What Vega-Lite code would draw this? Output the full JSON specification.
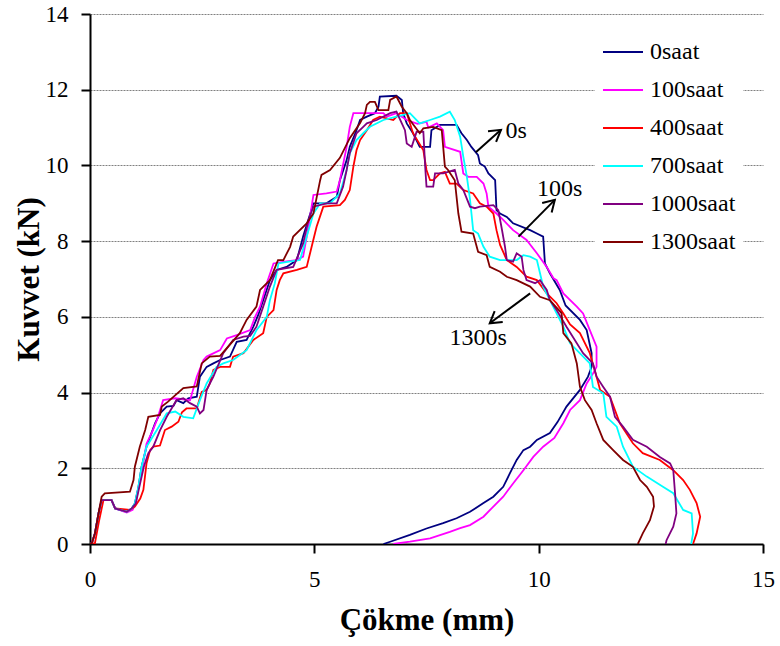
{
"$schema": "https://vega.github.io/schema/vega-lite/v6.json",
"autosize": {"type": "none"},
"padding": {"left": 90, "top": 14, "right": 17, "bottom": 102},
"width": 673,
"height": 530,
"background": "white",
"config": {"view": {"stroke": null}, "font": "Liberation Serif, Times New Roman, Times, serif"},
"datasets": {
"curves": [
{"s":"0saat","i":1,"x":0,"y":0},{"s":"0saat","i":2,"x":0.04,"y":0.02},{"s":"0saat","i":3,"x":0.11,"y":0.28},{"s":"0saat","i":4,"x":0.19,"y":0.81},{"s":"0saat","i":5,"x":0.26,"y":1.16},{"s":"0saat","i":6,"x":0.48,"y":1.16},{"s":"0saat","i":7,"x":0.56,"y":0.94},{"s":"0saat","i":8,"x":0.82,"y":0.85},{"s":"0saat","i":9,"x":0.93,"y":0.94},{"s":"0saat","i":10,"x":1.0,"y":1.07},{"s":"0saat","i":11,"x":1.08,"y":1.51},{"s":"0saat","i":12,"x":1.15,"y":2.04},{"s":"0saat","i":13,"x":1.26,"y":2.57},{"s":"0saat","i":14,"x":1.34,"y":2.83},{"s":"0saat","i":15,"x":1.45,"y":3.19},{"s":"0saat","i":16,"x":1.56,"y":3.45},{"s":"0saat","i":17,"x":1.71,"y":3.63},{"s":"0saat","i":18,"x":1.86,"y":3.65},{"s":"0saat","i":19,"x":1.93,"y":3.8},{"s":"0saat","i":20,"x":2.08,"y":3.72},{"s":"0saat","i":21,"x":2.19,"y":3.85},{"s":"0saat","i":22,"x":2.38,"y":3.89},{"s":"0saat","i":23,"x":2.45,"y":4.42},{"s":"0saat","i":24,"x":2.6,"y":4.68},{"s":"0saat","i":25,"x":2.75,"y":4.77},{"s":"0saat","i":26,"x":2.9,"y":4.86},{"s":"0saat","i":27,"x":3.12,"y":4.95},{"s":"0saat","i":28,"x":3.27,"y":5.34},{"s":"0saat","i":29,"x":3.49,"y":5.39},{"s":"0saat","i":30,"x":3.64,"y":5.74},{"s":"0saat","i":31,"x":3.75,"y":6.05},{"s":"0saat","i":32,"x":3.86,"y":6.44},{"s":"0saat","i":33,"x":4.01,"y":6.97},{"s":"0saat","i":34,"x":4.16,"y":7.24},{"s":"0saat","i":35,"x":4.38,"y":7.32},{"s":"0saat","i":36,"x":4.61,"y":7.5},{"s":"0saat","i":37,"x":4.75,"y":8.12},{"s":"0saat","i":38,"x":4.98,"y":9.0},{"s":"0saat","i":39,"x":5.27,"y":9.0},{"s":"0saat","i":40,"x":5.5,"y":9.17},{"s":"0saat","i":41,"x":5.57,"y":9.61},{"s":"0saat","i":42,"x":5.72,"y":10.14},{"s":"0saat","i":43,"x":5.79,"y":10.49},{"s":"0saat","i":44,"x":5.94,"y":10.93},{"s":"0saat","i":45,"x":6.02,"y":11.2},{"s":"0saat","i":46,"x":6.17,"y":11.29},{"s":"0saat","i":47,"x":6.35,"y":11.38},{"s":"0saat","i":48,"x":6.43,"y":11.55},{"s":"0saat","i":49,"x":6.46,"y":11.82},{"s":"0saat","i":50,"x":6.83,"y":11.84},{"s":"0saat","i":51,"x":6.95,"y":11.73},{"s":"0saat","i":52,"x":6.98,"y":11.38},{"s":"0saat","i":53,"x":7.06,"y":11.11},{"s":"0saat","i":54,"x":7.2,"y":10.85},{"s":"0saat","i":55,"x":7.35,"y":10.49},{"s":"0saat","i":56,"x":7.58,"y":10.49},{"s":"0saat","i":57,"x":7.61,"y":10.93},{"s":"0saat","i":58,"x":7.8,"y":11.07},{"s":"0saat","i":59,"x":8.17,"y":11.07},{"s":"0saat","i":60,"x":8.28,"y":10.85},{"s":"0saat","i":61,"x":8.4,"y":10.67},{"s":"0saat","i":62,"x":8.5,"y":10.49},{"s":"0saat","i":63,"x":8.65,"y":10.27},{"s":"0saat","i":64,"x":8.69,"y":10.05},{"s":"0saat","i":65,"x":8.8,"y":9.97},{"s":"0saat","i":66,"x":8.88,"y":9.79},{"s":"0saat","i":67,"x":9.03,"y":9.61},{"s":"0saat","i":68,"x":9.06,"y":8.82},{"s":"0saat","i":69,"x":9.14,"y":8.73},{"s":"0saat","i":70,"x":9.29,"y":8.64},{"s":"0saat","i":71,"x":9.43,"y":8.47},{"s":"0saat","i":72,"x":9.81,"y":8.29},{"s":"0saat","i":73,"x":9.96,"y":8.2},{"s":"0saat","i":74,"x":10.1,"y":8.12},{"s":"0saat","i":75,"x":10.14,"y":7.41},{"s":"0saat","i":76,"x":10.25,"y":7.15},{"s":"0saat","i":77,"x":10.47,"y":6.71},{"s":"0saat","i":78,"x":10.6,"y":6.3},{"s":"0saat","i":79,"x":10.92,"y":5.92},{"s":"0saat","i":80,"x":11.07,"y":5.65},{"s":"0saat","i":81,"x":11.18,"y":5.04},{"s":"0saat","i":82,"x":11.18,"y":4.68},{"s":"0saat","i":83,"x":11.1,"y":4.42},{"s":"0saat","i":84,"x":10.92,"y":4.07},{"s":"0saat","i":85,"x":10.62,"y":3.63},{"s":"0saat","i":86,"x":10.42,"y":3.22},{"s":"0saat","i":87,"x":10.25,"y":2.93},{"s":"0saat","i":88,"x":9.96,"y":2.75},{"s":"0saat","i":89,"x":9.81,"y":2.57},{"s":"0saat","i":90,"x":9.66,"y":2.48},{"s":"0saat","i":91,"x":9.51,"y":2.22},{"s":"0saat","i":92,"x":9.36,"y":1.87},{"s":"0saat","i":93,"x":9.21,"y":1.51},{"s":"0saat","i":94,"x":8.99,"y":1.25},{"s":"0saat","i":95,"x":8.77,"y":1.08},{"s":"0saat","i":96,"x":8.47,"y":0.85},{"s":"0saat","i":97,"x":8.17,"y":0.68},{"s":"0saat","i":98,"x":7.87,"y":0.55},{"s":"0saat","i":99,"x":7.5,"y":0.41},{"s":"0saat","i":100,"x":7.13,"y":0.24},{"s":"0saat","i":101,"x":6.69,"y":0.06},{"s":"0saat","i":102,"x":6.54,"y":0},
{"s":"100saat","i":1,"x":0,"y":0},{"s":"100saat","i":2,"x":0.04,"y":0.02},{"s":"100saat","i":3,"x":0.11,"y":0.28},{"s":"100saat","i":4,"x":0.19,"y":0.81},{"s":"100saat","i":5,"x":0.26,"y":1.16},{"s":"100saat","i":6,"x":0.48,"y":1.16},{"s":"100saat","i":7,"x":0.56,"y":0.94},{"s":"100saat","i":8,"x":0.82,"y":0.83},{"s":"100saat","i":9,"x":0.95,"y":0.9},{"s":"100saat","i":10,"x":1.02,"y":1.1},{"s":"100saat","i":11,"x":1.1,"y":1.6},{"s":"100saat","i":12,"x":1.18,"y":2.1},{"s":"100saat","i":13,"x":1.26,"y":2.65},{"s":"100saat","i":14,"x":1.4,"y":3.0},{"s":"100saat","i":15,"x":1.5,"y":3.3},{"s":"100saat","i":16,"x":1.63,"y":3.8},{"s":"100saat","i":17,"x":1.9,"y":3.85},{"s":"100saat","i":18,"x":2.23,"y":3.8},{"s":"100saat","i":19,"x":2.38,"y":4.42},{"s":"100saat","i":20,"x":2.53,"y":4.86},{"s":"100saat","i":21,"x":2.6,"y":4.95},{"s":"100saat","i":22,"x":2.9,"y":5.12},{"s":"100saat","i":23,"x":3.05,"y":5.43},{"s":"100saat","i":24,"x":3.27,"y":5.52},{"s":"100saat","i":25,"x":3.57,"y":5.65},{"s":"100saat","i":26,"x":3.68,"y":6.0},{"s":"100saat","i":27,"x":3.79,"y":6.27},{"s":"100saat","i":28,"x":3.94,"y":6.89},{"s":"100saat","i":29,"x":4.09,"y":7.41},{"s":"100saat","i":30,"x":4.3,"y":7.45},{"s":"100saat","i":31,"x":4.6,"y":7.5},{"s":"100saat","i":32,"x":4.75,"y":7.59},{"s":"100saat","i":33,"x":4.87,"y":8.38},{"s":"100saat","i":34,"x":4.98,"y":9.22},{"s":"100saat","i":35,"x":5.27,"y":9.26},{"s":"100saat","i":36,"x":5.5,"y":9.31},{"s":"100saat","i":37,"x":5.57,"y":9.61},{"s":"100saat","i":38,"x":5.72,"y":10.49},{"s":"100saat","i":39,"x":5.79,"y":11.02},{"s":"100saat","i":40,"x":5.87,"y":11.38},{"s":"100saat","i":41,"x":6.54,"y":11.38},{"s":"100saat","i":42,"x":6.61,"y":11.29},{"s":"100saat","i":43,"x":6.83,"y":11.38},{"s":"100saat","i":44,"x":7.06,"y":11.2},{"s":"100saat","i":45,"x":7.3,"y":11.1},{"s":"100saat","i":46,"x":7.5,"y":11.15},{"s":"100saat","i":47,"x":7.54,"y":11.0},{"s":"100saat","i":48,"x":7.73,"y":11.11},{"s":"100saat","i":49,"x":7.87,"y":10.93},{"s":"100saat","i":50,"x":7.91,"y":10.49},{"s":"100saat","i":51,"x":8.25,"y":10.36},{"s":"100saat","i":52,"x":8.32,"y":9.79},{"s":"100saat","i":53,"x":8.43,"y":9.7},{"s":"100saat","i":54,"x":8.62,"y":9.7},{"s":"100saat","i":55,"x":8.77,"y":9.52},{"s":"100saat","i":56,"x":8.84,"y":9.26},{"s":"100saat","i":57,"x":8.88,"y":8.91},{"s":"100saat","i":58,"x":9.06,"y":8.73},{"s":"100saat","i":59,"x":9.21,"y":8.56},{"s":"100saat","i":60,"x":9.43,"y":8.29},{"s":"100saat","i":61,"x":9.73,"y":8.03},{"s":"100saat","i":62,"x":9.96,"y":7.68},{"s":"100saat","i":63,"x":10.18,"y":7.32},{"s":"100saat","i":64,"x":10.33,"y":7.02},{"s":"100saat","i":65,"x":10.4,"y":6.97},{"s":"100saat","i":66,"x":10.55,"y":6.62},{"s":"100saat","i":67,"x":10.85,"y":6.27},{"s":"100saat","i":68,"x":10.99,"y":6.09},{"s":"100saat","i":69,"x":11.14,"y":5.65},{"s":"100saat","i":70,"x":11.29,"y":5.21},{"s":"100saat","i":71,"x":11.29,"y":4.68},{"s":"100saat","i":72,"x":11.21,"y":4.5},{"s":"100saat","i":73,"x":11.07,"y":4.24},{"s":"100saat","i":74,"x":10.92,"y":3.8},{"s":"100saat","i":75,"x":10.7,"y":3.54},{"s":"100saat","i":76,"x":10.55,"y":3.19},{"s":"100saat","i":77,"x":10.35,"y":2.8},{"s":"100saat","i":78,"x":10.1,"y":2.57},{"s":"100saat","i":79,"x":9.88,"y":2.3},{"s":"100saat","i":80,"x":9.66,"y":1.95},{"s":"100saat","i":81,"x":9.43,"y":1.6},{"s":"100saat","i":82,"x":9.21,"y":1.25},{"s":"100saat","i":83,"x":8.99,"y":0.99},{"s":"100saat","i":84,"x":8.77,"y":0.72},{"s":"100saat","i":85,"x":8.47,"y":0.5},{"s":"100saat","i":86,"x":8.25,"y":0.42},{"s":"100saat","i":87,"x":8.02,"y":0.32},{"s":"100saat","i":88,"x":7.58,"y":0.15},{"s":"100saat","i":89,"x":7.13,"y":0.06},{"s":"100saat","i":90,"x":6.76,"y":0},
{"s":"400saat","i":1,"x":0,"y":0},{"s":"400saat","i":2,"x":0.11,"y":0.02},{"s":"400saat","i":3,"x":0.2,"y":0.6},{"s":"400saat","i":4,"x":0.3,"y":1.16},{"s":"400saat","i":5,"x":0.48,"y":1.16},{"s":"400saat","i":6,"x":0.56,"y":0.94},{"s":"400saat","i":7,"x":0.89,"y":0.9},{"s":"400saat","i":8,"x":1.0,"y":0.99},{"s":"400saat","i":9,"x":1.12,"y":1.2},{"s":"400saat","i":10,"x":1.19,"y":1.43},{"s":"400saat","i":11,"x":1.26,"y":2.13},{"s":"400saat","i":12,"x":1.34,"y":2.48},{"s":"400saat","i":13,"x":1.41,"y":2.57},{"s":"400saat","i":14,"x":1.56,"y":2.6},{"s":"400saat","i":15,"x":1.67,"y":3.01},{"s":"400saat","i":16,"x":1.82,"y":3.1},{"s":"400saat","i":17,"x":1.97,"y":3.23},{"s":"400saat","i":18,"x":2.05,"y":3.48},{"s":"400saat","i":19,"x":2.15,"y":3.58},{"s":"400saat","i":20,"x":2.38,"y":3.58},{"s":"400saat","i":21,"x":2.49,"y":4.02},{"s":"400saat","i":22,"x":2.6,"y":4.07},{"s":"400saat","i":23,"x":2.67,"y":4.24},{"s":"400saat","i":24,"x":2.75,"y":4.6},{"s":"400saat","i":25,"x":2.9,"y":4.68},{"s":"400saat","i":26,"x":3.12,"y":4.68},{"s":"400saat","i":27,"x":3.19,"y":4.95},{"s":"400saat","i":28,"x":3.42,"y":5.04},{"s":"400saat","i":29,"x":3.64,"y":5.39},{"s":"400saat","i":30,"x":3.86,"y":5.57},{"s":"400saat","i":31,"x":3.94,"y":6.0},{"s":"400saat","i":32,"x":4.09,"y":6.18},{"s":"400saat","i":33,"x":4.16,"y":6.71},{"s":"400saat","i":34,"x":4.23,"y":6.97},{"s":"400saat","i":35,"x":4.31,"y":7.15},{"s":"400saat","i":36,"x":4.61,"y":7.24},{"s":"400saat","i":37,"x":4.83,"y":7.32},{"s":"400saat","i":38,"x":4.94,"y":7.85},{"s":"400saat","i":39,"x":5.05,"y":8.38},{"s":"400saat","i":40,"x":5.2,"y":8.91},{"s":"400saat","i":41,"x":5.57,"y":8.95},{"s":"400saat","i":42,"x":5.68,"y":9.09},{"s":"400saat","i":43,"x":5.79,"y":9.35},{"s":"400saat","i":44,"x":5.87,"y":9.97},{"s":"400saat","i":45,"x":5.94,"y":10.4},{"s":"400saat","i":46,"x":6.02,"y":10.67},{"s":"400saat","i":47,"x":6.17,"y":10.93},{"s":"400saat","i":48,"x":6.31,"y":11.2},{"s":"400saat","i":49,"x":6.46,"y":11.29},{"s":"400saat","i":50,"x":6.76,"y":11.2},{"s":"400saat","i":51,"x":6.91,"y":11.38},{"s":"400saat","i":52,"x":7.06,"y":11.38},{"s":"400saat","i":53,"x":7.2,"y":10.85},{"s":"400saat","i":54,"x":7.43,"y":10.4},{"s":"400saat","i":55,"x":7.5,"y":9.88},{"s":"400saat","i":56,"x":7.58,"y":9.61},{"s":"400saat","i":57,"x":7.65,"y":9.61},{"s":"400saat","i":58,"x":7.8,"y":9.79},{"s":"400saat","i":59,"x":7.91,"y":9.83},{"s":"400saat","i":60,"x":8.02,"y":9.52},{"s":"400saat","i":61,"x":8.17,"y":9.52},{"s":"400saat","i":62,"x":8.32,"y":9.35},{"s":"400saat","i":63,"x":8.54,"y":9.26},{"s":"400saat","i":64,"x":8.69,"y":9.0},{"s":"400saat","i":65,"x":8.84,"y":8.91},{"s":"400saat","i":66,"x":8.99,"y":8.73},{"s":"400saat","i":67,"x":9.06,"y":8.29},{"s":"400saat","i":68,"x":9.14,"y":7.9},{"s":"400saat","i":69,"x":9.29,"y":7.5},{"s":"400saat","i":70,"x":9.51,"y":7.32},{"s":"400saat","i":71,"x":9.73,"y":7.06},{"s":"400saat","i":72,"x":9.96,"y":6.97},{"s":"400saat","i":73,"x":10.18,"y":6.62},{"s":"400saat","i":74,"x":10.4,"y":6.36},{"s":"400saat","i":75,"x":10.55,"y":6.09},{"s":"400saat","i":76,"x":10.7,"y":5.8},{"s":"400saat","i":77,"x":10.92,"y":5.57},{"s":"400saat","i":78,"x":11.14,"y":5.04},{"s":"400saat","i":79,"x":11.29,"y":4.42},{"s":"400saat","i":80,"x":11.37,"y":4.07},{"s":"400saat","i":81,"x":11.59,"y":3.89},{"s":"400saat","i":82,"x":11.81,"y":3.19},{"s":"400saat","i":83,"x":12.1,"y":2.66},{"s":"400saat","i":84,"x":12.32,"y":2.4},{"s":"400saat","i":85,"x":12.7,"y":2.22},{"s":"400saat","i":86,"x":13.0,"y":1.95},{"s":"400saat","i":87,"x":13.22,"y":1.69},{"s":"400saat","i":88,"x":13.37,"y":1.43},{"s":"400saat","i":89,"x":13.52,"y":1.08},{"s":"400saat","i":90,"x":13.6,"y":0.72},{"s":"400saat","i":91,"x":13.52,"y":0.28},{"s":"400saat","i":92,"x":13.44,"y":0},
{"s":"700saat","i":1,"x":0,"y":0},{"s":"700saat","i":2,"x":0.04,"y":0.02},{"s":"700saat","i":3,"x":0.11,"y":0.28},{"s":"700saat","i":4,"x":0.19,"y":0.81},{"s":"700saat","i":5,"x":0.26,"y":1.16},{"s":"700saat","i":6,"x":0.48,"y":1.16},{"s":"700saat","i":7,"x":0.56,"y":0.94},{"s":"700saat","i":8,"x":0.82,"y":0.85},{"s":"700saat","i":9,"x":0.93,"y":0.94},{"s":"700saat","i":10,"x":1.0,"y":1.07},{"s":"700saat","i":11,"x":1.08,"y":1.51},{"s":"700saat","i":12,"x":1.15,"y":2.04},{"s":"700saat","i":13,"x":1.26,"y":2.57},{"s":"700saat","i":14,"x":1.49,"y":3.01},{"s":"700saat","i":15,"x":1.71,"y":3.45},{"s":"700saat","i":16,"x":1.9,"y":3.5},{"s":"700saat","i":17,"x":2.08,"y":3.36},{"s":"700saat","i":18,"x":2.3,"y":3.32},{"s":"700saat","i":19,"x":2.45,"y":3.8},{"s":"700saat","i":20,"x":2.6,"y":4.24},{"s":"700saat","i":21,"x":2.82,"y":4.68},{"s":"700saat","i":22,"x":2.97,"y":4.77},{"s":"700saat","i":23,"x":3.19,"y":4.86},{"s":"700saat","i":24,"x":3.49,"y":5.12},{"s":"700saat","i":25,"x":3.71,"y":5.65},{"s":"700saat","i":26,"x":3.94,"y":6.0},{"s":"700saat","i":27,"x":4.01,"y":6.44},{"s":"700saat","i":28,"x":4.12,"y":6.89},{"s":"700saat","i":29,"x":4.2,"y":7.41},{"s":"700saat","i":30,"x":4.4,"y":7.45},{"s":"700saat","i":31,"x":4.68,"y":7.5},{"s":"700saat","i":32,"x":4.83,"y":8.12},{"s":"700saat","i":33,"x":4.98,"y":8.73},{"s":"700saat","i":34,"x":5.13,"y":9.0},{"s":"700saat","i":35,"x":5.35,"y":9.0},{"s":"700saat","i":36,"x":5.57,"y":9.26},{"s":"700saat","i":37,"x":5.72,"y":9.88},{"s":"700saat","i":38,"x":5.79,"y":10.32},{"s":"700saat","i":39,"x":5.94,"y":10.67},{"s":"700saat","i":40,"x":6.09,"y":10.85},{"s":"700saat","i":41,"x":6.24,"y":11.02},{"s":"700saat","i":42,"x":6.54,"y":11.2},{"s":"700saat","i":43,"x":6.83,"y":11.29},{"s":"700saat","i":44,"x":7.13,"y":11.38},{"s":"700saat","i":45,"x":7.35,"y":11.11},{"s":"700saat","i":46,"x":7.58,"y":11.2},{"s":"700saat","i":47,"x":7.8,"y":11.29},{"s":"700saat","i":48,"x":8.02,"y":11.42},{"s":"700saat","i":49,"x":8.13,"y":11.2},{"s":"700saat","i":50,"x":8.25,"y":10.76},{"s":"700saat","i":51,"x":8.32,"y":10.23},{"s":"700saat","i":52,"x":8.4,"y":9.7},{"s":"700saat","i":53,"x":8.47,"y":9.1},{"s":"700saat","i":54,"x":8.54,"y":8.29},{"s":"700saat","i":55,"x":8.65,"y":8.2},{"s":"700saat","i":56,"x":8.77,"y":7.85},{"s":"700saat","i":57,"x":8.91,"y":7.59},{"s":"700saat","i":58,"x":9.14,"y":7.5},{"s":"700saat","i":59,"x":9.51,"y":7.5},{"s":"700saat","i":60,"x":9.66,"y":7.63},{"s":"700saat","i":61,"x":9.81,"y":7.59},{"s":"700saat","i":62,"x":9.96,"y":7.5},{"s":"700saat","i":63,"x":10.03,"y":7.15},{"s":"700saat","i":64,"x":10.1,"y":6.8},{"s":"700saat","i":65,"x":10.25,"y":6.44},{"s":"700saat","i":66,"x":10.4,"y":6.09},{"s":"700saat","i":67,"x":10.55,"y":5.74},{"s":"700saat","i":68,"x":10.7,"y":5.3},{"s":"700saat","i":69,"x":10.85,"y":5.12},{"s":"700saat","i":70,"x":11.14,"y":4.77},{"s":"700saat","i":71,"x":11.21,"y":4.15},{"s":"700saat","i":72,"x":11.44,"y":3.98},{"s":"700saat","i":73,"x":11.51,"y":3.36},{"s":"700saat","i":74,"x":11.74,"y":3.1},{"s":"700saat","i":75,"x":11.88,"y":2.57},{"s":"700saat","i":76,"x":12.1,"y":2.04},{"s":"700saat","i":77,"x":12.41,"y":1.78},{"s":"700saat","i":78,"x":12.77,"y":1.51},{"s":"700saat","i":79,"x":13.0,"y":1.34},{"s":"700saat","i":80,"x":13.22,"y":0.9},{"s":"700saat","i":81,"x":13.41,"y":0.81},{"s":"700saat","i":82,"x":13.44,"y":0.28},{"s":"700saat","i":83,"x":13.4,"y":0},
{"s":"1000saat","i":1,"x":0,"y":0},{"s":"1000saat","i":2,"x":0.04,"y":0.02},{"s":"1000saat","i":3,"x":0.11,"y":0.28},{"s":"1000saat","i":4,"x":0.19,"y":0.81},{"s":"1000saat","i":5,"x":0.26,"y":1.16},{"s":"1000saat","i":6,"x":0.48,"y":1.16},{"s":"1000saat","i":7,"x":0.56,"y":0.94},{"s":"1000saat","i":8,"x":0.82,"y":0.85},{"s":"1000saat","i":9,"x":0.93,"y":0.94},{"s":"1000saat","i":10,"x":1.02,"y":1.07},{"s":"1000saat","i":11,"x":1.1,"y":1.51},{"s":"1000saat","i":12,"x":1.2,"y":2.04},{"s":"1000saat","i":13,"x":1.3,"y":2.4},{"s":"1000saat","i":14,"x":1.41,"y":2.57},{"s":"1000saat","i":15,"x":1.56,"y":3.0},{"s":"1000saat","i":16,"x":1.71,"y":3.36},{"s":"1000saat","i":17,"x":1.93,"y":3.8},{"s":"1000saat","i":18,"x":2.08,"y":3.85},{"s":"1000saat","i":19,"x":2.23,"y":3.72},{"s":"1000saat","i":20,"x":2.38,"y":3.63},{"s":"1000saat","i":21,"x":2.45,"y":3.45},{"s":"1000saat","i":22,"x":2.53,"y":3.54},{"s":"1000saat","i":23,"x":2.6,"y":4.07},{"s":"1000saat","i":24,"x":2.75,"y":4.42},{"s":"1000saat","i":25,"x":2.97,"y":5.04},{"s":"1000saat","i":26,"x":3.19,"y":5.39},{"s":"1000saat","i":27,"x":3.42,"y":5.48},{"s":"1000saat","i":28,"x":3.57,"y":5.5},{"s":"1000saat","i":29,"x":3.71,"y":5.74},{"s":"1000saat","i":30,"x":3.86,"y":6.27},{"s":"1000saat","i":31,"x":4.01,"y":6.8},{"s":"1000saat","i":32,"x":4.16,"y":7.24},{"s":"1000saat","i":33,"x":4.53,"y":7.32},{"s":"1000saat","i":34,"x":4.75,"y":7.94},{"s":"1000saat","i":35,"x":4.87,"y":8.56},{"s":"1000saat","i":36,"x":4.98,"y":8.91},{"s":"1000saat","i":37,"x":5.27,"y":9.0},{"s":"1000saat","i":38,"x":5.5,"y":9.0},{"s":"1000saat","i":39,"x":5.64,"y":9.44},{"s":"1000saat","i":40,"x":5.72,"y":9.88},{"s":"1000saat","i":41,"x":5.79,"y":10.32},{"s":"1000saat","i":42,"x":5.94,"y":10.85},{"s":"1000saat","i":43,"x":6.09,"y":11.02},{"s":"1000saat","i":44,"x":6.17,"y":11.11},{"s":"1000saat","i":45,"x":6.39,"y":11.2},{"s":"1000saat","i":46,"x":6.69,"y":11.38},{"s":"1000saat","i":47,"x":6.83,"y":11.42},{"s":"1000saat","i":48,"x":6.95,"y":11.11},{"s":"1000saat","i":49,"x":7.02,"y":10.93},{"s":"1000saat","i":50,"x":7.06,"y":10.58},{"s":"1000saat","i":51,"x":7.17,"y":10.49},{"s":"1000saat","i":52,"x":7.28,"y":10.89},{"s":"1000saat","i":53,"x":7.43,"y":10.89},{"s":"1000saat","i":54,"x":7.47,"y":9.97},{"s":"1000saat","i":55,"x":7.5,"y":9.44},{"s":"1000saat","i":56,"x":7.65,"y":9.44},{"s":"1000saat","i":57,"x":7.69,"y":9.79},{"s":"1000saat","i":58,"x":7.87,"y":9.79},{"s":"1000saat","i":59,"x":8.13,"y":9.88},{"s":"1000saat","i":60,"x":8.21,"y":9.52},{"s":"1000saat","i":61,"x":8.32,"y":9.35},{"s":"1000saat","i":62,"x":8.47,"y":8.91},{"s":"1000saat","i":63,"x":8.58,"y":8.87},{"s":"1000saat","i":64,"x":8.69,"y":8.91},{"s":"1000saat","i":65,"x":8.99,"y":8.95},{"s":"1000saat","i":66,"x":9.1,"y":8.82},{"s":"1000saat","i":67,"x":9.17,"y":8.38},{"s":"1000saat","i":68,"x":9.25,"y":7.85},{"s":"1000saat","i":69,"x":9.29,"y":7.5},{"s":"1000saat","i":70,"x":9.43,"y":7.46},{"s":"1000saat","i":71,"x":9.51,"y":7.68},{"s":"1000saat","i":72,"x":9.62,"y":7.59},{"s":"1000saat","i":73,"x":9.66,"y":7.24},{"s":"1000saat","i":74,"x":9.73,"y":6.97},{"s":"1000saat","i":75,"x":9.92,"y":6.89},{"s":"1000saat","i":76,"x":10.03,"y":6.97},{"s":"1000saat","i":77,"x":10.18,"y":6.71},{"s":"1000saat","i":78,"x":10.25,"y":6.44},{"s":"1000saat","i":79,"x":10.4,"y":6.18},{"s":"1000saat","i":80,"x":10.62,"y":5.74},{"s":"1000saat","i":81,"x":10.99,"y":5.04},{"s":"1000saat","i":82,"x":11.21,"y":4.77},{"s":"1000saat","i":83,"x":11.29,"y":4.42},{"s":"1000saat","i":84,"x":11.44,"y":4.15},{"s":"1000saat","i":85,"x":11.59,"y":3.89},{"s":"1000saat","i":86,"x":11.7,"y":3.36},{"s":"1000saat","i":87,"x":11.88,"y":3.1},{"s":"1000saat","i":88,"x":12.1,"y":2.75},{"s":"1000saat","i":89,"x":12.41,"y":2.57},{"s":"1000saat","i":90,"x":12.7,"y":2.3},{"s":"1000saat","i":91,"x":12.93,"y":2.13},{"s":"1000saat","i":92,"x":13.0,"y":1.95},{"s":"1000saat","i":93,"x":13.04,"y":1.34},{"s":"1000saat","i":94,"x":13.07,"y":0.81},{"s":"1000saat","i":95,"x":13.0,"y":0.46},{"s":"1000saat","i":96,"x":12.85,"y":0.1},{"s":"1000saat","i":97,"x":12.83,"y":0},
{"s":"1300saat","i":1,"x":0,"y":0},{"s":"1300saat","i":2,"x":0.04,"y":0.02},{"s":"1300saat","i":3,"x":0.11,"y":0.28},{"s":"1300saat","i":4,"x":0.19,"y":0.81},{"s":"1300saat","i":5,"x":0.26,"y":1.25},{"s":"1300saat","i":6,"x":0.33,"y":1.34},{"s":"1300saat","i":7,"x":0.89,"y":1.38},{"s":"1300saat","i":8,"x":0.97,"y":1.69},{"s":"1300saat","i":9,"x":1.0,"y":2.04},{"s":"1300saat","i":10,"x":1.11,"y":2.57},{"s":"1300saat","i":11,"x":1.23,"y":3.01},{"s":"1300saat","i":12,"x":1.3,"y":3.36},{"s":"1300saat","i":13,"x":1.56,"y":3.41},{"s":"1300saat","i":14,"x":1.6,"y":3.63},{"s":"1300saat","i":15,"x":1.74,"y":3.76},{"s":"1300saat","i":16,"x":2.08,"y":4.12},{"s":"1300saat","i":17,"x":2.38,"y":4.16},{"s":"1300saat","i":18,"x":2.49,"y":4.77},{"s":"1300saat","i":19,"x":2.67,"y":4.95},{"s":"1300saat","i":20,"x":2.9,"y":4.97},{"s":"1300saat","i":21,"x":3.34,"y":5.57},{"s":"1300saat","i":22,"x":3.49,"y":5.92},{"s":"1300saat","i":23,"x":3.71,"y":6.27},{"s":"1300saat","i":24,"x":3.79,"y":6.71},{"s":"1300saat","i":25,"x":4.01,"y":6.97},{"s":"1300saat","i":26,"x":4.19,"y":7.5},{"s":"1300saat","i":27,"x":4.31,"y":7.5},{"s":"1300saat","i":28,"x":4.46,"y":7.85},{"s":"1300saat","i":29,"x":4.53,"y":8.12},{"s":"1300saat","i":30,"x":4.83,"y":8.47},{"s":"1300saat","i":31,"x":4.98,"y":8.73},{"s":"1300saat","i":32,"x":5.13,"y":9.61},{"s":"1300saat","i":33,"x":5.16,"y":9.75},{"s":"1300saat","i":34,"x":5.35,"y":9.88},{"s":"1300saat","i":35,"x":5.57,"y":10.2},{"s":"1300saat","i":36,"x":5.79,"y":10.72},{"s":"1300saat","i":37,"x":6.02,"y":11.12},{"s":"1300saat","i":38,"x":6.13,"y":11.38},{"s":"1300saat","i":39,"x":6.17,"y":11.6},{"s":"1300saat","i":40,"x":6.24,"y":11.68},{"s":"1300saat","i":41,"x":6.35,"y":11.68},{"s":"1300saat","i":42,"x":6.43,"y":11.46},{"s":"1300saat","i":43,"x":6.65,"y":11.46},{"s":"1300saat","i":44,"x":6.69,"y":11.73},{"s":"1300saat","i":45,"x":6.83,"y":11.82},{"s":"1300saat","i":46,"x":6.95,"y":11.55},{"s":"1300saat","i":47,"x":7.06,"y":11.38},{"s":"1300saat","i":48,"x":7.13,"y":11.2},{"s":"1300saat","i":49,"x":7.35,"y":10.85},{"s":"1300saat","i":50,"x":7.43,"y":10.98},{"s":"1300saat","i":51,"x":7.65,"y":11.02},{"s":"1300saat","i":52,"x":7.84,"y":10.93},{"s":"1300saat","i":53,"x":7.91,"y":9.97},{"s":"1300saat","i":54,"x":7.98,"y":9.88},{"s":"1300saat","i":55,"x":8.13,"y":9.61},{"s":"1300saat","i":56,"x":8.21,"y":8.73},{"s":"1300saat","i":57,"x":8.28,"y":8.25},{"s":"1300saat","i":58,"x":8.54,"y":8.2},{"s":"1300saat","i":59,"x":8.65,"y":7.72},{"s":"1300saat","i":60,"x":8.84,"y":7.63},{"s":"1300saat","i":61,"x":8.91,"y":7.32},{"s":"1300saat","i":62,"x":9.14,"y":7.19},{"s":"1300saat","i":63,"x":9.29,"y":7.06},{"s":"1300saat","i":64,"x":9.51,"y":6.97},{"s":"1300saat","i":65,"x":9.81,"y":6.8},{"s":"1300saat","i":66,"x":10.03,"y":6.53},{"s":"1300saat","i":67,"x":10.25,"y":6.44},{"s":"1300saat","i":68,"x":10.51,"y":6.1},{"s":"1300saat","i":69,"x":10.55,"y":5.57},{"s":"1300saat","i":70,"x":10.73,"y":5.3},{"s":"1300saat","i":71,"x":10.85,"y":4.77},{"s":"1300saat","i":72,"x":10.92,"y":4.15},{"s":"1300saat","i":73,"x":11.03,"y":3.8},{"s":"1300saat","i":74,"x":11.18,"y":3.54},{"s":"1300saat","i":75,"x":11.29,"y":3.19},{"s":"1300saat","i":76,"x":11.44,"y":2.75},{"s":"1300saat","i":77,"x":11.66,"y":2.48},{"s":"1300saat","i":78,"x":11.88,"y":2.22},{"s":"1300saat","i":79,"x":12.1,"y":2.04},{"s":"1300saat","i":80,"x":12.26,"y":1.69},{"s":"1300saat","i":81,"x":12.41,"y":1.51},{"s":"1300saat","i":82,"x":12.55,"y":1.25},{"s":"1300saat","i":83,"x":12.57,"y":0.99},{"s":"1300saat","i":84,"x":12.48,"y":0.63},{"s":"1300saat","i":85,"x":12.32,"y":0.28},{"s":"1300saat","i":86,"x":12.21,"y":0}
],
"notes": [
{"label":"0s","x1":8.6,"y1":10.35,"x2":9.16,"y2":10.94,"tx":9.5,"ty":10.91},
{"label":"100s","x1":9.55,"y1":8.12,"x2":10.36,"y2":9.09,"tx":10.47,"ty":9.38},
{"label":"1300s","x1":9.81,"y1":6.62,"x2":8.91,"y2":5.83,"tx":8.65,"ty":5.44}
]
},
"layer": [
{
"data": {"name": "curves"},
"mark": {"type": "line", "strokeWidth": 1.8, "clip": true},
"encoding": {
"x": {"field": "x", "type": "quantitative", "scale": {"domain": [0, 15], "nice": false, "zero": false},
"axis": {"values": [0, 5, 10, 15], "title": "Çökme (mm)", "grid": false, "domainColor": "black", "domainWidth": 2, "tickColor": "black", "tickWidth": 2, "tickSize": 9, "labelFont": "Liberation Serif, Times New Roman, Times, serif", "labelFontSize": 23, "labelColor": "black", "labelPadding": 15, "titleFont": "Liberation Serif, Times New Roman, Times, serif", "titleFontSize": 31, "titleFontWeight": "bold", "titleColor": "black", "titlePadding": 14, "labelFlush": false}},
"y": {"field": "y", "type": "quantitative", "scale": {"domain": [0, 14], "nice": false},
"axis": {"values": [0, 2, 4, 6, 8, 10, 12, 14], "title": "Kuvvet (kN)", "grid": true, "gridColor": "#808080", "gridDash": [2, 1], "gridWidth": 1, "domainColor": "black", "domainWidth": 2, "tickColor": "black", "tickWidth": 2, "tickSize": 9, "labelFont": "Liberation Serif, Times New Roman, Times, serif", "labelFontSize": 23, "labelColor": "black", "labelPadding": 13, "titleFont": "Liberation Serif, Times New Roman, Times, serif", "titleFontSize": 31, "titleFontWeight": "bold", "titleColor": "black", "titlePadding": 0, "labelFlush": false}},
"color": {"field": "s", "type": "nominal",
"scale": {"domain": ["0saat", "100saat", "400saat", "700saat", "1000saat", "1300saat"], "range": ["#000080", "#FF00FF", "#FF0000", "#00FFFF", "#800080", "#800000"]},
"legend": {"title": null, "orient": "none", "legendX": 505, "legendY": 10, "fillColor": "white", "padding": 7, "symbolType": "stroke", "symbolSize": 1600, "symbolStrokeWidth": 2, "rowPadding": 5, "labelOffset": 6, "labelFont": "Liberation Serif, Times New Roman, Times, serif", "labelFontSize": 24, "labelColor": "black"}},
"order": {"field": "i", "type": "quantitative"}
}
},
{
"mark": {"type": "rule", "color": "#999999", "strokeWidth": 1.5},
"encoding": {"x": {"datum": 15}}
},
{
"data": {"name": "notes"},
"mark": {"type": "rule", "color": "black", "strokeWidth": 2},
"encoding": {
"x": {"field": "x1", "type": "quantitative"},
"y": {"field": "y1", "type": "quantitative"},
"x2": {"field": "x2"},
"y2": {"field": "y2"}
}
},
{
"data": {"name": "notes"},
"transform": [{"filter": "datum.label == '0s'"}],
"mark": {"type": "point", "shape": "M-0.6,1L0,0L0.6,1", "filled": false, "color": "black", "strokeWidth": 2, "size": 500, "angle": 53, "opacity": 1},
"encoding": {"x": {"field": "x2", "type": "quantitative"}, "y": {"field": "y2", "type": "quantitative"}}
},
{
"data": {"name": "notes"},
"transform": [{"filter": "datum.label == '100s'"}],
"mark": {"type": "point", "shape": "M-0.6,1L0,0L0.6,1", "filled": false, "color": "black", "strokeWidth": 2, "size": 500, "angle": 45, "opacity": 1},
"encoding": {"x": {"field": "x2", "type": "quantitative"}, "y": {"field": "y2", "type": "quantitative"}}
},
{
"data": {"name": "notes"},
"transform": [{"filter": "datum.label == '1300s'"}],
"mark": {"type": "point", "shape": "M-0.6,1L0,0L0.6,1", "filled": false, "color": "black", "strokeWidth": 2, "size": 500, "angle": 233, "opacity": 1},
"encoding": {"x": {"field": "x2", "type": "quantitative"}, "y": {"field": "y2", "type": "quantitative"}}
},
{
"data": {"name": "notes"},
"mark": {"type": "text", "font": "Liberation Serif, Times New Roman, Times, serif", "fontSize": 24, "color": "black", "align": "center", "baseline": "middle"},
"encoding": {
"x": {"field": "tx", "type": "quantitative"},
"y": {"field": "ty", "type": "quantitative"},
"text": {"field": "label"}
}
}
]
}
